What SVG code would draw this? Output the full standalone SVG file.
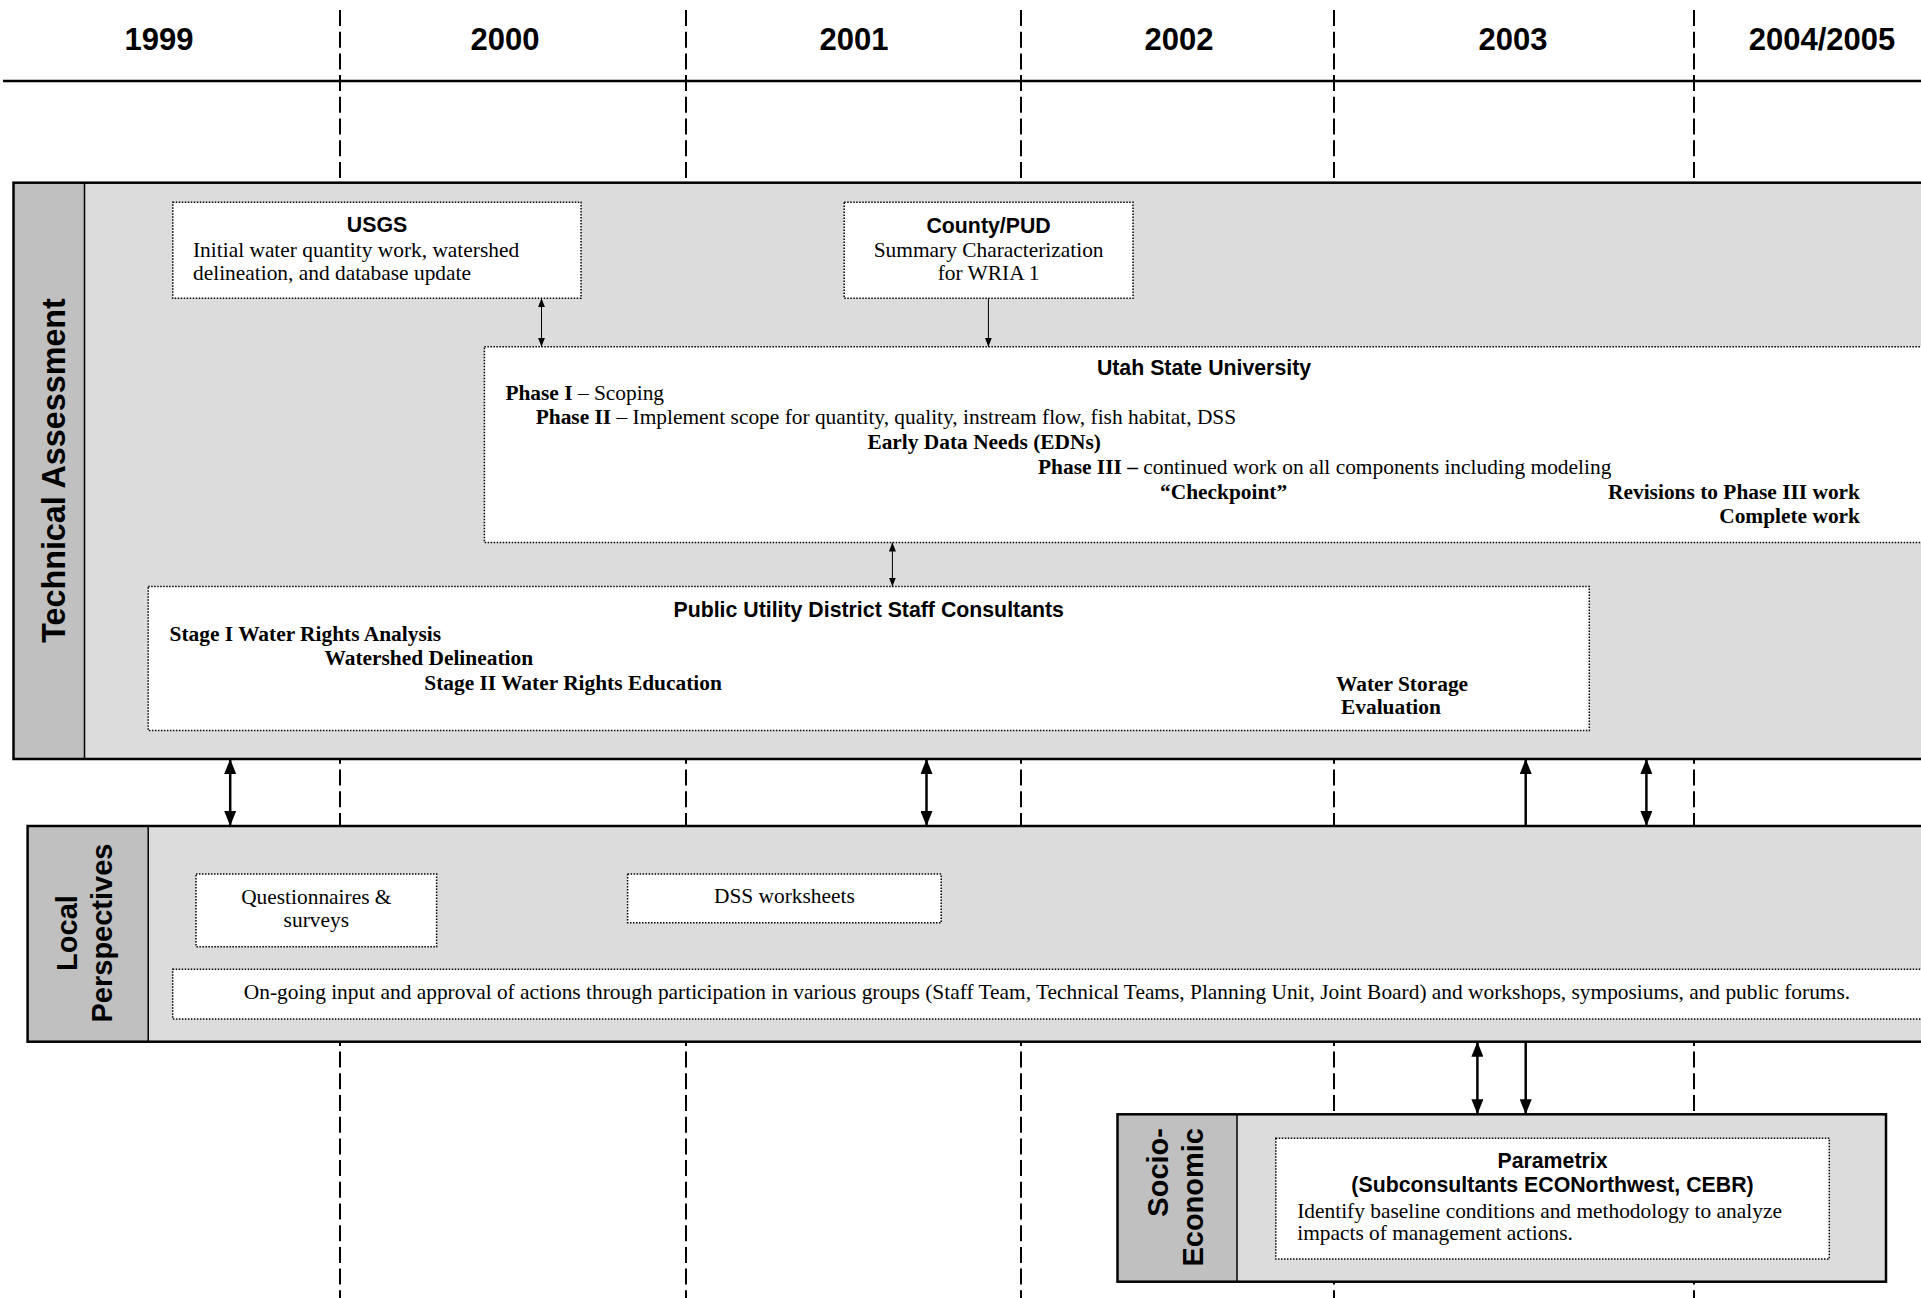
<svg xmlns="http://www.w3.org/2000/svg" width="1921" height="1298" viewBox="0 0 1921 1298">
<style>
.yr{font:bold 31px "Liberation Sans",Arial,sans-serif;text-anchor:middle}
.hd{font:bold 21.3px "Liberation Sans",Arial,sans-serif;text-anchor:middle}
.side{font:bold 32.3px "Liberation Sans",Arial,sans-serif;text-anchor:middle}
.side2{font:bold 29px "Liberation Sans",Arial,sans-serif;text-anchor:middle}
.tx{font:21.4px "Liberation Serif","Times New Roman",serif}
.b{font-weight:bold}
.c{text-anchor:middle}
.e{text-anchor:end}
.grid{stroke:#000;stroke-width:2;stroke-dasharray:16 5.7;fill:none}
.band{fill:#DCDCDC}
.bar{fill:#C0C0C0}
.frame{fill:none;stroke:#000;stroke-width:2.5}
.div{stroke:#000;stroke-width:1.5}
.box{fill:#fff;stroke:#000;stroke-width:1.5;stroke-dasharray:1.5 1.5}
.thin{stroke:#000;stroke-width:1;fill:none}
.thick{stroke:#000;stroke-width:2.5;fill:none}
</style>
<defs>
<marker id="big" markerUnits="userSpaceOnUse" markerWidth="15" markerHeight="12" refX="15" refY="6" orient="auto-start-reverse">
<path d="M0,0 L15,6 L0,12 z" fill="#000"/>
</marker>
<marker id="small" markerUnits="userSpaceOnUse" markerWidth="9" markerHeight="7" refX="9" refY="3.5" orient="auto-start-reverse">
<path d="M0,0 L9,3.5 L0,7 z" fill="#000"/>
</marker>
</defs>
<rect x="0" y="0" width="1921" height="1298" fill="#fff"/>
<g id="timeline">
<line x1="3" y1="81" x2="1921" y2="81" stroke="#000" stroke-width="2.5"/>
<line class="grid" x1="340" y1="10" x2="340" y2="1298"/>
<line class="grid" x1="686" y1="10" x2="686" y2="1298"/>
<line class="grid" x1="1021" y1="10" x2="1021" y2="1298"/>
<line class="grid" x1="1334" y1="10" x2="1334" y2="1298"/>
<line class="grid" x1="1694" y1="10" x2="1694" y2="1298"/>
<text class="yr" x="159" y="50">1999</text>
<text class="yr" x="505" y="50">2000</text>
<text class="yr" x="854" y="50">2001</text>
<text class="yr" x="1179" y="50">2002</text>
<text class="yr" x="1513" y="50">2003</text>
<text class="yr" x="1822" y="50">2004/2005</text>
</g>
<g id="technical-assessment">
<rect class="band" x="13.5" y="182.7" width="1920" height="576.3"/>
<rect class="bar" x="13.5" y="182.7" width="71" height="576.3"/>
<line class="div" x1="84.5" y1="182.7" x2="84.5" y2="759"/>
<rect class="frame" x="13.5" y="182.7" width="1920" height="576.3"/>
<text class="side" transform="translate(65,470.5) rotate(-90)">Technical Assessment</text>
</g>
<g id="local-perspectives">
<rect class="band" x="27.6" y="826" width="1910" height="215.7"/>
<rect class="bar" x="27.6" y="826" width="120.6" height="215.7"/>
<line class="div" x1="148.2" y1="826" x2="148.2" y2="1041.7"/>
<rect class="frame" x="27.6" y="826" width="1910" height="215.7"/>
<text class="side2" transform="translate(77,933) rotate(-90)">Local</text>
<text class="side2" transform="translate(112,933) rotate(-90)">Perspectives</text>
</g>
<g id="socio-economic">
<rect class="band" x="1117.5" y="1114.3" width="768.5" height="167.4"/>
<rect class="bar" x="1117.5" y="1114.3" width="119.5" height="167.4"/>
<line class="div" x1="1237" y1="1114.3" x2="1237" y2="1281.7"/>
<rect class="frame" x="1117.5" y="1114.3" width="768.5" height="167.4"/>
<text class="side2" style="text-anchor:end" transform="translate(1168,1128) rotate(-90)">Socio-</text>
<text class="side2" style="text-anchor:end" transform="translate(1203,1128) rotate(-90)">Economic</text>
</g>
<g id="usgs">
<rect class="box" x="172.8" y="202.3" width="408.2" height="96"/>
<text class="hd" x="377" y="232">USGS</text>
<text class="tx" x="193" y="257">Initial water quantity work, watershed</text>
<text class="tx" x="193" y="280">delineation, and database update</text>
</g>
<g id="county-pud">
<rect class="box" x="844.2" y="202.3" width="288.8" height="96"/>
<text class="hd" x="988.6" y="232.5">County/PUD</text>
<text class="tx c" x="988.6" y="257">Summary Characterization</text>
<text class="tx c" x="988.6" y="280">for WRIA 1</text>
</g>
<g id="utah-state-university">
<rect class="box" x="484.4" y="346.7" width="1460" height="195.8"/>
<text class="hd" x="1204" y="375">Utah State University</text>
<text class="tx" x="505.4" y="400"><tspan class="b">Phase I</tspan> – Scoping</text>
<text class="tx" x="535.7" y="424"><tspan class="b">Phase II</tspan> – Implement scope for quantity, quality, instream flow, fish habitat, DSS</text>
<text class="tx b" x="867.4" y="449">Early Data Needs (EDNs)</text>
<text class="tx" x="1038" y="474"><tspan class="b">Phase III –</tspan> continued work on all components including modeling</text>
<text class="tx b" x="1160" y="498.5">“Checkpoint”</text>
<text class="tx b e" x="1860" y="498.5">Revisions to Phase III work</text>
<text class="tx b e" x="1860" y="523">Complete work</text>
</g>
<g id="pud-staff-consultants">
<rect class="box" x="148.2" y="586.5" width="1441.1" height="144"/>
<text class="hd" x="868.7" y="616.7">Public Utility District Staff Consultants</text>
<text class="tx b" x="169.6" y="641">Stage I Water Rights Analysis</text>
<text class="tx b" x="324.5" y="665">Watershed Delineation</text>
<text class="tx b" x="424.3" y="690">Stage II Water Rights Education</text>
<text class="tx b" x="1336" y="690.5">Water Storage</text>
<text class="tx b" x="1341" y="713.5">Evaluation</text>
</g>
<g id="questionnaires">
<rect class="box" x="196" y="874" width="240.6" height="72.7"/>
<text class="tx c" x="316.3" y="904">Questionnaires &amp;</text>
<text class="tx c" x="316.3" y="926.7">surveys</text>
</g>
<g id="dss-worksheets">
<rect class="box" x="627.6" y="874" width="313.6" height="48.7"/>
<text class="tx c" x="784.4" y="903.3">DSS worksheets</text>
</g>
<g id="ongoing-input">
<rect class="box" x="172.7" y="969.3" width="1770" height="49.7"/>
<text class="tx c" x="1047" y="999.3">On-going input and approval of actions through participation in various groups (Staff Team, Technical Teams, Planning Unit, Joint Board) and workshops, symposiums, and public forums.</text>
</g>
<g id="parametrix">
<rect class="box" x="1275.8" y="1138.3" width="553.5" height="120.7"/>
<text class="hd" x="1552.5" y="1168.3">Parametrix</text>
<text class="hd" x="1552.5" y="1192.3">(Subconsultants ECONorthwest, CEBR)</text>
<text class="tx" x="1297.2" y="1218.3">Identify baseline conditions and methodology to analyze</text>
<text class="tx" x="1297.2" y="1240">impacts of management actions.</text>
</g>
<g id="connectors">
<line class="thin" x1="541.5" y1="298.3" x2="541.5" y2="346.7" marker-start="url(#small)" marker-end="url(#small)"/>
<line class="thin" x1="988.4" y1="298.3" x2="988.4" y2="346.7" marker-end="url(#small)"/>
<line class="thin" x1="892.4" y1="542.5" x2="892.4" y2="586.5" marker-start="url(#small)" marker-end="url(#small)"/>
<line class="thick" x1="230.2" y1="759" x2="230.2" y2="826" marker-start="url(#big)" marker-end="url(#big)"/>
<line class="thick" x1="926.5" y1="759" x2="926.5" y2="826" marker-start="url(#big)" marker-end="url(#big)"/>
<line class="thick" x1="1525.7" y1="826" x2="1525.7" y2="759" marker-end="url(#big)"/>
<line class="thick" x1="1646.4" y1="759" x2="1646.4" y2="826" marker-start="url(#big)" marker-end="url(#big)"/>
<line class="thick" x1="1477.4" y1="1041.7" x2="1477.4" y2="1114.3" marker-start="url(#big)" marker-end="url(#big)"/>
<line class="thick" x1="1525.7" y1="1041.7" x2="1525.7" y2="1114.3" marker-end="url(#big)"/>
</g>
</svg>
